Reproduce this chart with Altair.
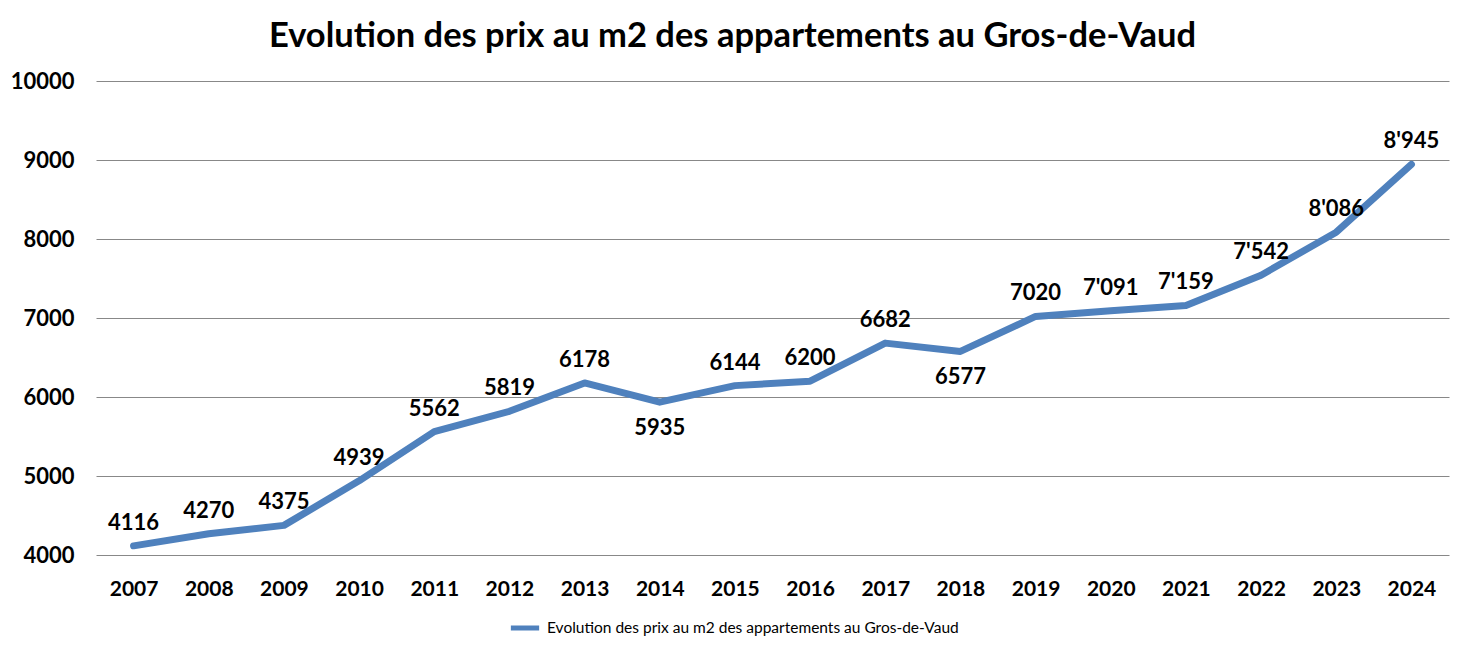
import altair as alt
import pandas as pd

years = [str(y) for y in range(2007, 2025)]
prices = [4116, 4270, 4375, 4939, 5562, 5819, 6178, 5935, 6144, 6200,
          6682, 6577, 7020, 7091, 7159, 7542, 8086, 8945]
labels = ["4116", "4270", "4375", "4939", "5562", "5819", "6178", "5935", "6144", "6200",
          "6682", "6577", "7020", "7'091", "7'159", "7'542", "8'086", "8'945"]
label_side = ["above"] * 7 + ["below"] + ["above"] * 3 + ["below"] + ["above"] * 6
series_name = "Evolution des prix au m2 des appartements au Gros-de-Vaud"
y_ticks = [4000, 5000, 6000, 7000, 8000, 9000, 10000]

df = pd.DataFrame({"year": years, "price": prices, "label": labels,
                   "side": label_side, "series": series_name})

FONT = "Lato"

x = alt.X("year:O", scale=alt.Scale(type="point", padding=0.5),
          axis=alt.Axis(title=None, labelAngle=0, ticks=False, domain=False,
                        labelPadding=23, labelFont=FONT, labelFontSize=21,
                        labelFontWeight="bold", labelColor="black"))
y = alt.Y("price:Q", scale=alt.Scale(domain=[4000, 10000], nice=False, zero=False),
          axis=alt.Axis(title=None, values=y_ticks, format="d", ticks=False, domain=False,
                        grid=True, gridColor="#888888", gridWidth=1,
                        labelPadding=22, labelFont=FONT, labelFontSize=22,
                        labelFontWeight="bold", labelColor="black"))

base = alt.Chart(df).encode(x=x, y=y)

line = base.mark_line(strokeWidth=7, strokeCap="round", strokeJoin="round").encode(
    color=alt.Color("series:N", scale=alt.Scale(range=["#4F81BD"]),
                    legend=alt.Legend(title=None, orient="none", legendX=412, legendY=530,
                                      symbolType="stroke", symbolStrokeWidth=5,
                                      symbolSize=800, labelFont=FONT, labelFontSize=15.5,
                                      labelColor="black", labelLimit=700, symbolOffset=0,
                                      labelOffset=5))
)

above = base.transform_filter(alt.datum.side == "above").mark_text(
    dy=-23, font=FONT, fontSize=22, fontWeight="bold", color="black"
).encode(text="label:N")

below = base.transform_filter(alt.datum.side == "below").mark_text(
    dy=26, font=FONT, fontSize=22, fontWeight="bold", color="black"
).encode(text="label:N")

chart = alt.layer(line, above, below).properties(
    width=1353, height=474,
    title=alt.TitleParams(series_name, font=FONT, fontSize=34.5, fontWeight="bold",
                          color="black", anchor="middle", dx=-40, offset=16),
    autosize=alt.AutoSizeParams(type="none"),
    padding={"left": 88, "top": 73, "right": 8, "bottom": 94},
).configure_view(stroke=None)

chart.save("out.html", embed_options={"renderer": "svg", "actions": False})
